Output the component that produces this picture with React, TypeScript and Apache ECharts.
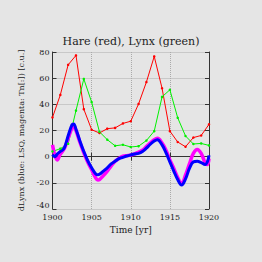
import React, { useEffect, useRef } from "react";
import * as echarts from "echarts";

const years = [1900, 1901, 1902, 1903, 1904, 1905, 1906, 1907, 1908, 1909, 1910, 1911, 1912, 1913, 1914, 1915, 1916, 1917, 1918, 1919, 1920];
const hare = [30, 47.2, 70.2, 77.4, 36.3, 20.6, 18.1, 21.4, 22, 25.4, 27.1, 40.3, 57, 76.6, 52.3, 19.5, 11.2, 7.6, 14.6, 16.2, 24.7];
const lynx = [4, 6.1, 9.8, 35.2, 59.4, 41.7, 19, 13, 8.3, 9.1, 7.4, 8, 12.3, 19.5, 45.7, 51.1, 29.7, 15.8, 9.7, 10.1, 8.6];

const dYears = [1900, 1900.3, 1900.6, 1901, 1901.5, 1902, 1902.5, 1902.7, 1903, 1903.5, 1904, 1904.5, 1905, 1905.5, 1905.8, 1906, 1906.5, 1907, 1907.5, 1908, 1908.5, 1909, 1909.5, 1910, 1910.5, 1911, 1911.5, 1912, 1912.5, 1913, 1913.4, 1914, 1914.5, 1915, 1915.5, 1916, 1916.5, 1917, 1917.5, 1918, 1918.5, 1919, 1919.5, 1919.8, 1920];
const dLynxLsq = [1.5, 0, 2, 4, 6.5, 16, 24.5, 25, 21, 12, 4, -3, -8.5, -13, -13.8, -13.5, -11, -8.5, -5.5, -3.5, -1.5, -0.5, 0.5, 1.3, 2, 2.5, 4, 6.5, 9.5, 12, 13, 9, 3, -4, -11, -17.5, -21.7, -17, -9, -4, -3.5, -4.5, -6, -3.8, 1];
const dLynxTn = [9, 1, -2.5, 2, 6, 14, 22, 23, 20, 11, 3, -4, -10, -16, -17.8, -17.5, -14.5, -11, -7, -3.5, -1.3, 0.3, 0.8, 1.3, 2.2, 3.5, 5, 7.7, 10.5, 13, 14, 10.5, 5, -2.5, -9, -16, -20.5, -14, -5.5, 2.5, 5.5, 2.5, -4.5, -6, -1.5];

const titleText = "Hare (red), Lynx (green)";
const xName = "Time [yr]";
const yName = "dLynx (blue: LSQ, magenta: Tn[:]) [c.u.]";

const FONT = "DejaVu Serif";

export default function App() {
  const ref = useRef<HTMLDivElement>(null);
  useEffect(() => {
    if (!ref.current) return;
    const chart = echarts.init(ref.current, undefined, { renderer: "svg" });
    const pair = (xs: number[], ys: number[]) => xs.map((x, i) => [x, ys[i]]);
    const axisLine = { show: true, lineStyle: { color: "#333", width: 1 } };
    const split = { show: true, lineStyle: { color: "#aaa", type: "dotted" as const, width: 1 } };
    const tick = { show: true, inside: true, length: 4, lineStyle: { color: "#333" } };
    chart.setOption({
      animation: false,
      backgroundColor: "#e5e5e5",
      title: {
        text: titleText,
        left: "center",
        top: 31,
        textStyle: { fontFamily: FONT, fontSize: 11, fontWeight: "normal", color: "#222" },
      },
      grid: { left: 52.5, right: 53, top: 52, bottom: 53 },
      xAxis: [
        {
          type: "value",
          min: 1900,
          max: 1920,
          interval: 5,
          position: "bottom",
          axisLine,
          axisTick: tick,
          axisLabel: { fontFamily: FONT, fontSize: 8, color: "#222", margin: 4, formatter: (v: number) => String(v) },
          splitLine: split,
          name: xName,
          nameLocation: "middle",
          nameGap: 15,
          nameTextStyle: { fontFamily: FONT, fontSize: 9, color: "#222" },
        },
        {
          type: "value",
          min: 1900,
          max: 1920,
          interval: 5,
          position: "top",
          axisLine,
          axisTick: tick,
          axisLabel: { show: false },
          splitLine: { show: false },
        },
      ],
      yAxis: [
        {
          type: "value",
          min: -40,
          max: 80,
          interval: 20,
          position: "left",
          axisLine,
          axisTick: tick,
          axisLabel: {
            fontFamily: FONT,
            fontSize: 8,
            color: "#222",
            margin: 3,
            formatter: (v: number) => (v === -40 ? "{low|" + v + "}" : String(v)),
            rich: { low: { fontFamily: FONT, fontSize: 8, color: "#222", padding: [0, 0, 7, 0] } },
          },
          splitLine: split,
          name: yName,
          nameLocation: "middle",
          nameGap: 25,
          nameTextStyle: { fontFamily: FONT, fontSize: 8, color: "#222" },
        },
        {
          type: "value",
          min: -40,
          max: 80,
          interval: 20,
          position: "right",
          axisLine,
          axisTick: tick,
          axisLabel: { show: false },
          splitLine: { show: false },
        },
      ],
      series: [
        {
          type: "line",
          name: "Hare",
          data: pair(years, hare),
          symbol: "circle",
          symbolSize: 2.5,
          lineStyle: { color: "#ff0000", width: 1 },
          itemStyle: { color: "#ff0000" },
        },
        {
          type: "line",
          name: "Lynx",
          data: pair(years, lynx),
          symbol: "circle",
          symbolSize: 2.5,
          lineStyle: { color: "#00f000", width: 1 },
          itemStyle: { color: "#00f000" },
        },
        {
          type: "line",
          name: "Tn",
          data: pair(dYears, dLynxTn),
          smooth: 0.4,
          showSymbol: false,
          lineStyle: { color: "#ff00ff", width: 3.5 },
          itemStyle: { color: "#ff00ff" },
        },
        {
          type: "line",
          name: "LSQ",
          data: pair(dYears, dLynxLsq),
          smooth: 0.4,
          showSymbol: false,
          lineStyle: { color: "#0000ff", width: 3 },
          itemStyle: { color: "#0000ff" },
        },
      ],
    });
    return () => chart.dispose();
  }, []);
  return <div ref={ref} style={{ position: "fixed", left: 0, top: 0, width: 262, height: 262 }} />;
}
